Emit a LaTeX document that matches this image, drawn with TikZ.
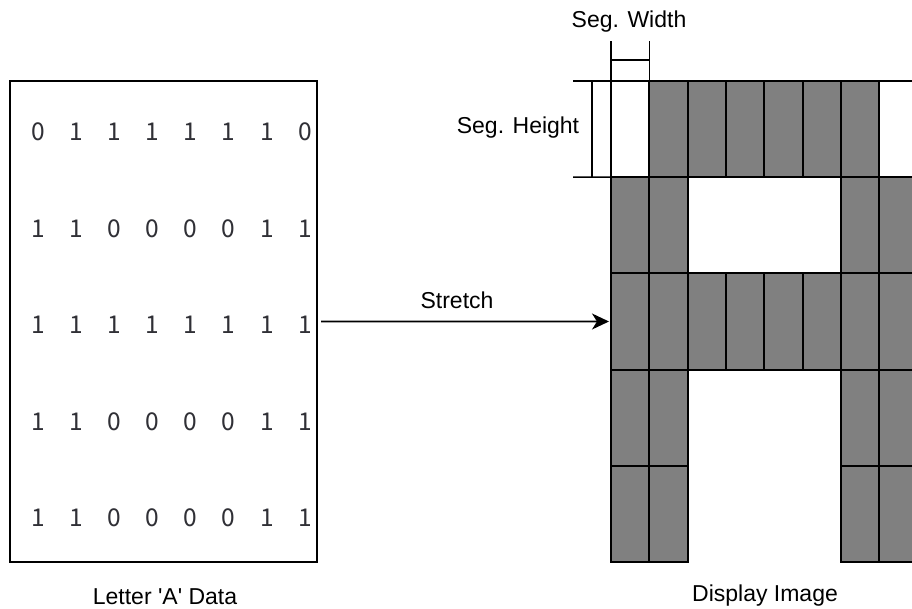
\documentclass[tikz,border=0pt]{standalone}
\usepackage{fontspec}
\setmainfont{Liberation Sans}
\newfontfamily\digitfont{Noto Sans CJK SC}
\usetikzlibrary{arrows.meta}
\definecolor{cellgray}{HTML}{808080}
\definecolor{digitcol}{HTML}{303036}
\newcommand\ARow[4]{%
  \foreach \v [count=\c] in {#4} {
    \node[digit] (d-#1-\c) at ({38+38.15*(\c-1)},#2) {\v};
    \ifnum\v=1\relax
      \node[cellon] (g-#1-\c) at ({611+38.3*(\c-1)},#3) {};
    \else
      \ifnum#1=1\relax
        \node[celloff] (g-#1-\c) at ({611+38.3*(\c-1)},#3) {};
      \fi
    \fi
  }}
\begin{document}
\begin{tikzpicture}[x=1pt,y=-1pt,
  cellon/.style={draw=black, fill=cellgray, line width=2pt, minimum width=38.3pt,
    minimum height=96.2pt, inner sep=0pt, outer sep=0pt, anchor=north west},
  celloff/.style={cellon, fill=white},
  digit/.style={font=\digitfont\fontsize{24.5}{24.5}\selectfont, text=digitcol, inner sep=0pt},
  lbl/.style={font=\fontsize{23}{24}\selectfont, inner sep=0pt},
  dim/.style={line width=1.3pt}]
\clip (0,0) rectangle (912,609);
\fill[white] (0,0) rectangle (912,609);
% left data box
\node[draw, line width=2pt, minimum width=307pt, minimum height=481pt, inner sep=0pt,
  outer sep=0pt, anchor=north west] (box) at (10,81) {};
% rows
\ARow{1}{132}{81}{0,1,1,1,1,1,1,0}
\ARow{2}{229}{177.2}{1,1,0,0,0,0,1,1}
\ARow{3}{325}{273.4}{1,1,1,1,1,1,1,1}
\ARow{4}{422}{369.6}{1,1,0,0,0,0,1,1}
\ARow{5}{518}{465.8}{1,1,0,0,0,0,1,1}
% arrow
\draw[-{Stealth[length=17pt,width=16pt,inset=5pt]}, line width=1.6pt,
  shorten <=4pt, shorten >=2pt] (box.east) -- (g-3-1.west);
\node[lbl] (stretch) at (457,300) {Stretch};
% segment width dimension
\coordinate (sw1) at (611,41);
\coordinate (sw2) at (649.3,41);
\coordinate (swa) at (611,60);
\coordinate (swb) at (649.3,60);
\draw[dim] (g-1-1.north west) -- (sw1);
\draw[dim] (g-1-2.north west) -- (sw2);
\draw[dim] (swa) -- (swb);
\node[lbl] (segw) at (629,22) {Seg. Width};
% segment height dimension
\coordinate (sh1) at (573,81);
\coordinate (sh2) at (573,177.2);
\coordinate (sha) at (592,81);
\coordinate (shb) at (592,177.2);
\draw[line width=1.6pt] (sh1) -- (g-1-1.north west);
\draw[line width=1.6pt] (sh2) -- (g-1-1.south west);
\draw[dim] (sha) -- (shb);
\node[lbl] (segh) at (518,128) {Seg. Height};
% captions
\node[lbl] (capl) at (165,597) {Letter \textquotesingle A\textquotesingle{} Data};
\node[lbl] (capr) at (765,596) {Display Image};
\end{tikzpicture}
\end{document}
